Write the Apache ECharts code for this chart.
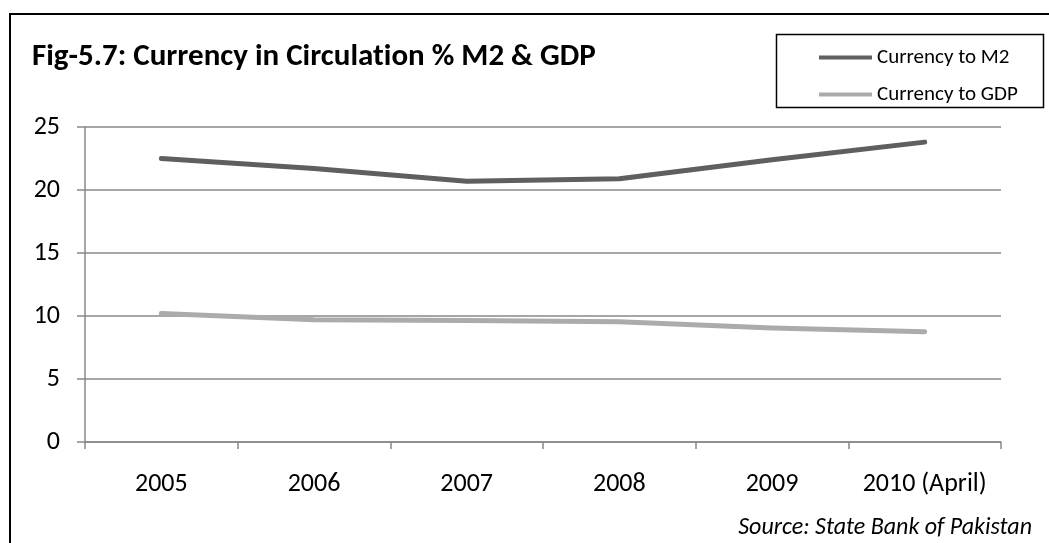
<!DOCTYPE html>
<html>
<head>
<meta charset="utf-8">
<script src="https://cdn.jsdelivr.net/npm/echarts@6/dist/echarts.min.js"></script>
<style>
  html, body { margin: 0; padding: 0; background: #fff; }
  #chart { width: 1049px; height: 543px; }
</style>
</head>
<body>
<div id="chart"></div>
<script>
// Fiscal years shown on the horizontal axis
const years = ['2005', '2006', '2007', '2008', '2009', '2010 (April)'];
// Currency in circulation as a percentage of M2
const currencyToM2 = [22.5, 21.7, 20.7, 20.9, 22.4, 23.8];
// Currency in circulation as a percentage of GDP
const currencyToGDP = [10.2, 9.7, 9.65, 9.55, 9.05, 8.75];
// Value axis ticks
const yTicks = [0, 5, 10, 15, 20, 25];

const FONT = 'Carlito, Calibri, Lato, sans-serif';
const axisGray = '#888888';
const m2Color = '#5f5f5f';
const gdpColor = '#ababab';

const chart = echarts.init(document.getElementById('chart'));
chart.setOption({
  animation: false,
  backgroundColor: '#ffffff',
  textStyle: { fontFamily: FONT },
  graphic: [
    {
      // outer frame
      type: 'rect',
      shape: { x: 10, y: 14, width: 1100, height: 600 },
      style: { fill: 'none', stroke: '#000', lineWidth: 2 },
      silent: true
    },
    {
      // legend frame
      type: 'rect',
      shape: { x: 776.5, y: 34.5, width: 267, height: 73 },
      style: { fill: 'none', stroke: '#000', lineWidth: 1.5 },
      silent: true
    },
    {
      // chart heading (ZWNJ keeps "ti" from forming a ligature)
      type: 'text',
      x: 32,
      y: 57,
      style: {
        text: 'Fig-5.7: Currency in Circulat\u200Cion % M2 & GDP',
        font: 'bold 31px ' + FONT,
        fill: '#000',
        textVerticalAlign: 'middle'
      }
    },
    {
      type: 'text',
      x: 1032,
      y: 528,
      style: {
        text: 'Source: State Bank of Pakistan',
        font: 'italic 24px ' + FONT,
        fill: '#000',
        textAlign: 'right',
        textVerticalAlign: 'middle'
      }
    }
  ],
  legend: {
    orient: 'vertical',
    left: 814,
    top: 42,
    itemWidth: 53,
    itemHeight: 4,
    itemGap: 16,
    icon: 'rect',
    textStyle: { fontFamily: FONT, fontSize: 21, lineHeight: 21, color: '#000' },
    data: [
      { name: 'Currency to M2', itemStyle: { color: m2Color } },
      { name: 'Currency to GDP', itemStyle: { color: gdpColor } }
    ]
  },
  grid: { left: 85, right: 48, top: 127, bottom: 101 },
  xAxis: {
    type: 'category',
    data: years,
    boundaryGap: true,
    axisLine: { lineStyle: { color: axisGray, width: 1.5 } },
    axisTick: { show: true, interval: 0, length: 7, lineStyle: { color: axisGray, width: 1.5 } },
    axisLabel: { interval: 0, color: '#000', fontSize: 26, fontFamily: FONT, margin: 29 },
    splitLine: { show: false }
  },
  yAxis: {
    type: 'value',
    min: yTicks[0],
    max: yTicks[yTicks.length - 1],
    interval: yTicks[1] - yTicks[0],
    axisLine: { show: true, lineStyle: { color: axisGray, width: 1.5 } },
    axisTick: { show: true, length: 8, lineStyle: { color: axisGray, width: 1.5 } },
    axisLabel: { color: '#000', fontSize: 26, fontFamily: FONT, margin: 25 },
    splitLine: { show: true, lineStyle: { color: axisGray, width: 1.5 } }
  },
  series: [
    {
      name: 'Currency to M2',
      type: 'line',
      data: currencyToM2,
      symbol: 'none',
      lineStyle: { color: m2Color, width: 5, cap: 'round', join: 'round' },
      itemStyle: { color: m2Color },
      z: 3
    },
    {
      name: 'Currency to GDP',
      type: 'line',
      data: currencyToGDP,
      symbol: 'none',
      lineStyle: { color: gdpColor, width: 5, cap: 'round', join: 'round' },
      itemStyle: { color: gdpColor },
      z: 3
    }
  ]
});
</script>
</body>
</html>
